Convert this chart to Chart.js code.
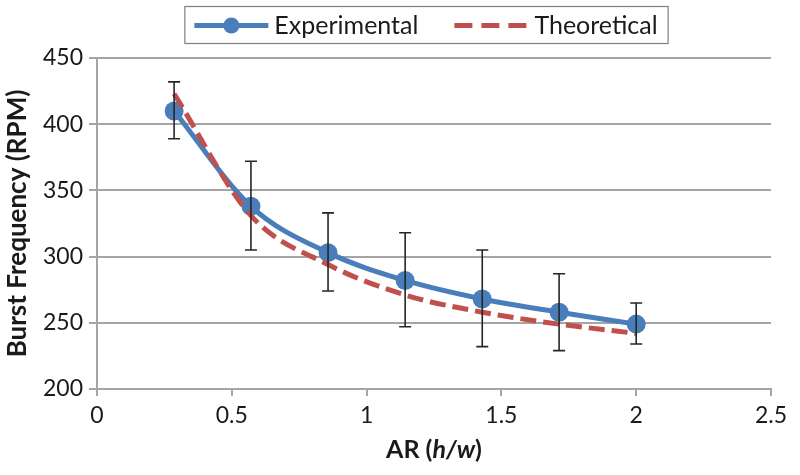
<!DOCTYPE html>
<html>
<head>
<meta charset="utf-8">
<script src="https://cdn.jsdelivr.net/npm/chart.js@4.4.1/dist/chart.umd.min.js"></script>
<style>
    html, body { margin: 0; padding: 0; background: #fff; }
</style>
</head>
<body>
<canvas id="burstChart" width="800" height="475"></canvas>
<script>
// Chart data
const arValues = [0.286, 0.571, 0.857, 1.143, 1.429, 1.714, 2.0];
const experimental = [410, 338, 303, 282, 268, 258, 249];
const errLow = [389, 305, 274, 247, 232, 229, 234];
const errHigh = [432, 372, 333, 318, 305, 287, 265];
const theoretical = [423, 331, 294, 271, 258, 249, 242];
const seriesLabels = ['Experimental', 'Theoretical'];

const BLUE = '#4a7ebb';
const RED = '#c0504d';
const GRID = '#a5a5a5';
const FONT = 'Lato, "Open Sans", sans-serif';

function toPoints(ys) {
    return arValues.map((x, i) => ({ x: x, y: ys[i] }));
}

// Error bars for the experimental series
const errorBarsPlugin = {
    id: 'errorBars',
    afterDatasetsDraw(chart) {
        const ctx = chart.ctx;
        const xs = chart.scales.x;
        const ys = chart.scales.y;
        ctx.save();
        ctx.strokeStyle = '#262626';
        ctx.lineWidth = 1.6;
        arValues.forEach((x, i) => {
            const px = xs.getPixelForValue(x);
            const top = ys.getPixelForValue(errHigh[i]);
            const bot = ys.getPixelForValue(errLow[i]);
            ctx.beginPath();
            ctx.moveTo(px, top);
            ctx.lineTo(px, bot);
            ctx.moveTo(px - 6, top);
            ctx.lineTo(px + 6, top);
            ctx.moveTo(px - 6, bot);
            ctx.lineTo(px + 6, bot);
            ctx.stroke();
        });
        ctx.restore();
    }
};

// Boxed legend at the top and the x axis title with italic h/w
const decorPlugin = {
    id: 'decor',
    afterDraw(chart) {
        const ctx = chart.ctx;
        const area = chart.chartArea;
        ctx.save();

        // legend
        ctx.font = '25px ' + FONT;
        const sampleW = 74;
        const w1 = ctx.measureText(seriesLabels[0]).width;
        const w2 = ctx.measureText(seriesLabels[1]).width;
        const itemGap = 36;
        const pad = 10;
        const total = pad + sampleW + 6 + w1 + itemGap + sampleW + 6 + w2 + pad;
        const left = 426 - total / 2;
        const top = 6, h = 37;
        const cy = top + h / 2 + 1;

        ctx.strokeStyle = '#7f7f7f';
        ctx.lineWidth = 1.2;
        ctx.strokeRect(left + 0.5, top + 0.5, total, h);

        let x = left + pad;
        ctx.strokeStyle = BLUE;
        ctx.lineWidth = 5;
        ctx.beginPath();
        ctx.moveTo(x, cy);
        ctx.lineTo(x + sampleW, cy);
        ctx.stroke();
        ctx.fillStyle = BLUE;
        ctx.beginPath();
        ctx.arc(x + sampleW / 2, cy, 8, 0, Math.PI * 2);
        ctx.fill();
        x += sampleW + 6;
        ctx.fillStyle = '#1a1a1a';
        ctx.textBaseline = 'middle';
        ctx.textAlign = 'left';
        ctx.fillText(seriesLabels[0], x, cy);
        x += w1 + itemGap;

        ctx.strokeStyle = RED;
        ctx.setLineDash([18, 9]);
        ctx.beginPath();
        ctx.moveTo(x, cy);
        ctx.lineTo(x + sampleW, cy);
        ctx.stroke();
        ctx.setLineDash([]);
        x += sampleW + 6;
        ctx.fillText(seriesLabels[1], x, cy);

        // x axis title: AR (h/w)
        const parts = [
            { t: 'AR (', f: 'bold 25px ' + FONT },
            { t: 'h/w', f: 'italic bold 25px ' + FONT },
            { t: ')', f: 'bold 25px ' + FONT }
        ];
        let tw = 0;
        parts.forEach(p => { ctx.font = p.f; p.w = ctx.measureText(p.t).width; tw += p.w; });
        let tx = (area.left + area.right) / 2 - tw / 2;
        const ty = area.bottom + 61;
        parts.forEach(p => {
            ctx.font = p.f;
            ctx.fillText(p.t, tx, ty);
            tx += p.w;
        });
        ctx.restore();
    }
};

const tickFont = { family: FONT, size: 23 };

new Chart(document.getElementById('burstChart'), {
    type: 'line',
    data: {
        datasets: [{
            label: seriesLabels[1],
            data: toPoints(theoretical),
            borderColor: RED,
            borderWidth: 5,
            borderDash: [16, 7],
            pointRadius: 0,
            cubicInterpolationMode: 'monotone',
            fill: false
        }, {
            label: seriesLabels[0],
            data: toPoints(experimental),
            borderColor: BLUE,
            backgroundColor: BLUE,
            borderWidth: 5,
            pointRadius: 9.5,
            pointBorderWidth: 0,
            pointBackgroundColor: BLUE,
            cubicInterpolationMode: 'monotone',
            fill: false
        }]
    },
    options: {
        responsive: false,
        animation: false,
        devicePixelRatio: 1,
        layout: { padding: { top: 58, right: 29, left: 0, bottom: 0 } },
        plugins: {
            legend: { display: false },
            tooltip: { enabled: false }
        },
        scales: {
            x: {
                type: 'linear',
                min: 0,
                max: 2.5,
                ticks: {
                    stepSize: 0.5,
                    font: tickFont,
                    color: '#1a1a1a',
                    padding: 6,
                    callback: function(value) { return String(value); }
                },
                grid: { drawOnChartArea: false, tickLength: 7, color: GRID, lineWidth: 2 },
                border: { color: GRID, width: 2 },
                afterFit: function(scale) { scale.height = 86; }
            },
            y: {
                min: 200,
                max: 450,
                ticks: { stepSize: 50, font: tickFont, color: '#1a1a1a', padding: 6 },
                grid: { color: GRID, lineWidth: 2, tickLength: 8 },
                border: { color: GRID, width: 2 },
                title: {
                    display: true,
                    text: 'Burst Frequency (RPM)',
                    font: { family: FONT, size: 26, weight: 'bold' },
                    color: '#1a1a1a',
                    padding: { top: 2, bottom: 0 }
                },
                afterFit: function(scale) { scale.width = 97; }
            }
        }
    },
    plugins: [errorBarsPlugin, decorPlugin]
});
</script>
</body>
</html>
